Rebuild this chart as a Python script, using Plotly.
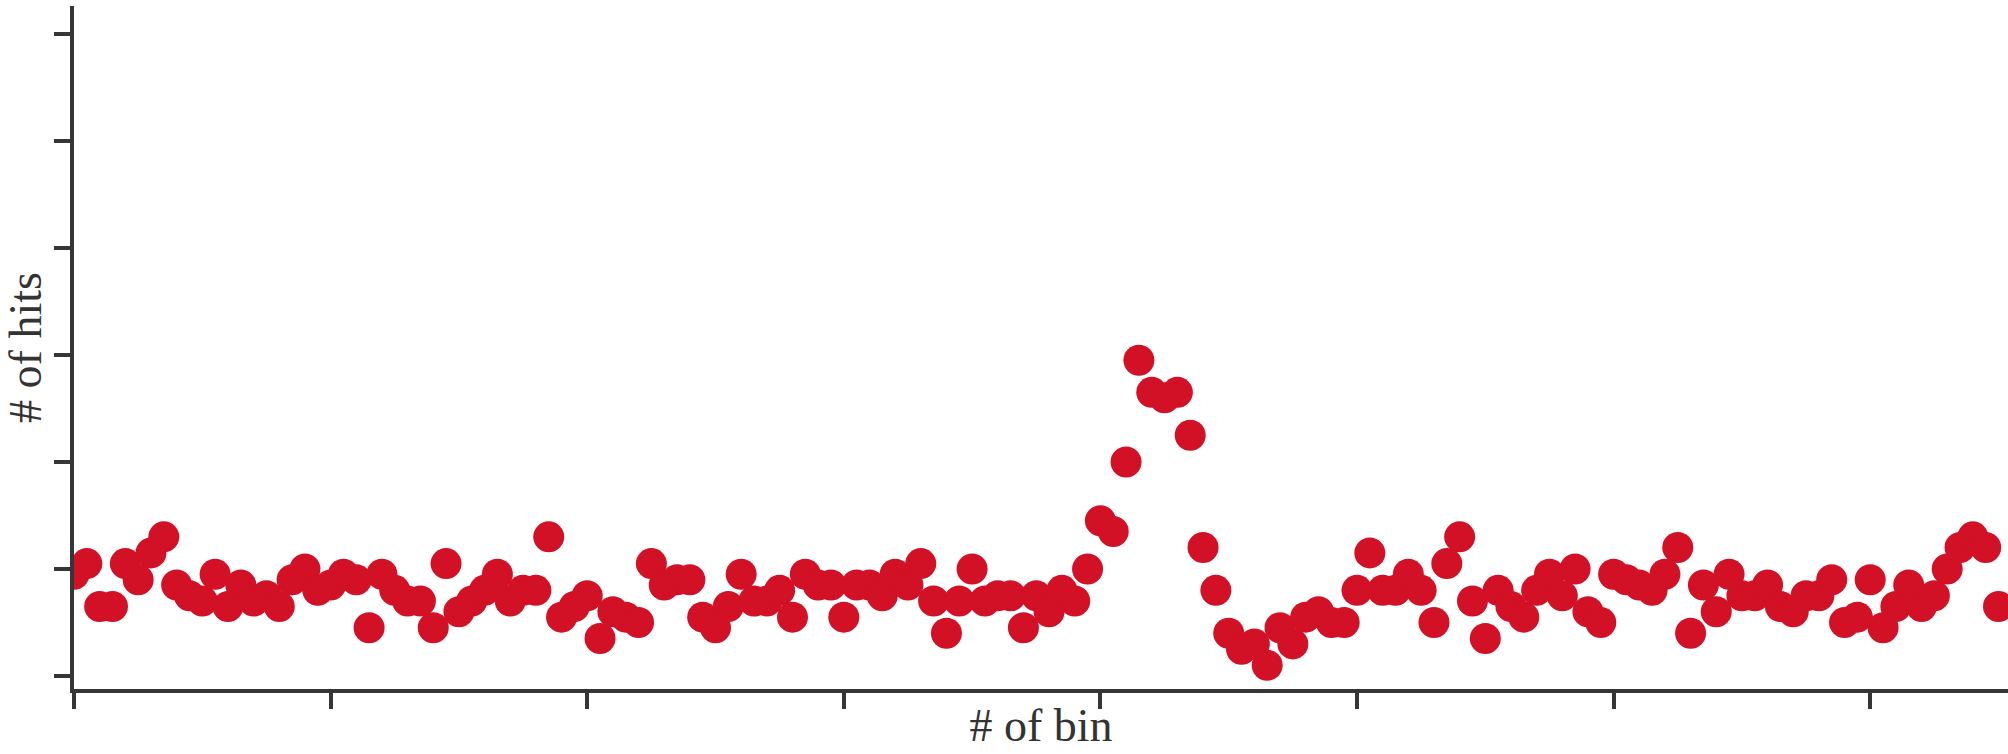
import plotly.graph_objects as go

bins = list(range(0, 151))
hits = [
    19, 21, 13, 13, 21, 18, 23, 26, 17, 15,
    14, 19, 13, 17, 14, 15, 13, 18, 20, 16,
    17, 19, 18, 9, 19, 16, 14, 14, 9, 21,
    12, 14, 16, 19, 14, 16, 16, 26, 11, 13,
    15, 7, 12, 11, 10, 21, 17, 18, 18, 11,
    9, 13, 19, 14, 14, 16, 11, 19, 17, 17,
    11, 17, 17, 15, 19, 17, 21, 14, 8, 14,
    20, 14, 15, 15, 9, 15, 12, 16, 14, 20,
    29, 27, 40, 59, 53, 52, 53, 45, 24, 16,
    8, 5, 6, 2, 9, 6, 11, 12, 10, 10,
    16, 23, 16, 16, 19, 16, 10, 21, 26, 14,
    7, 16, 13, 11, 16, 19, 15, 20, 12, 10,
    19, 18, 17, 16, 19, 24, 8, 17, 12, 19,
    15, 15, 17, 13, 12, 15, 15, 18, 10, 11,
    18, 9, 13, 17, 13, 15, 20, 24, 26, 24,
    13,
]
x_ticks = [0, 20, 40, 60, 80, 100, 120, 140]
y_ticks = [0, 20, 40, 60, 80, 100, 120]

x_title = "# of bin"
y_title = "# of hits"

AXIS = "#363636"
RED = "#D21026"

fig = go.Figure()
fig.add_trace(go.Scatter(
    x=bins, y=hits, mode="markers",
    marker=dict(size=31, color=RED, line=dict(width=0)),
    showlegend=False,
))

axis_common = dict(
    showline=True, linecolor=AXIS, linewidth=3.5,
    ticks="outside", ticklen=16, tickwidth=3.5, tickcolor=AXIS,
    showticklabels=False, showgrid=False, zeroline=False,
    mirror=False,
)

fig.update_layout(
    width=2008, height=754,
    margin=dict(l=74, r=0, t=6, b=65),
    paper_bgcolor="white", plot_bgcolor="white",
    xaxis=dict(
        range=[0, 150.74], tickvals=x_ticks,
        title=dict(text=x_title, font=dict(family="Liberation Serif", size=46, color="#333333"), standoff=2),
        automargin=False,
        **axis_common,
    ),
    yaxis=dict(
        range=[-2.43, 125.2], tickvals=y_ticks,
        title=dict(text=y_title, font=dict(family="Liberation Serif", size=46, color="#333333"), standoff=4),
        automargin=False,
        **axis_common,
    ),
)

fig.write_html(
    "out.html",
    config={"displayModeBar": False},
    post_script="document.body.style.margin='0';document.body.style.overflow='hidden';",
)
